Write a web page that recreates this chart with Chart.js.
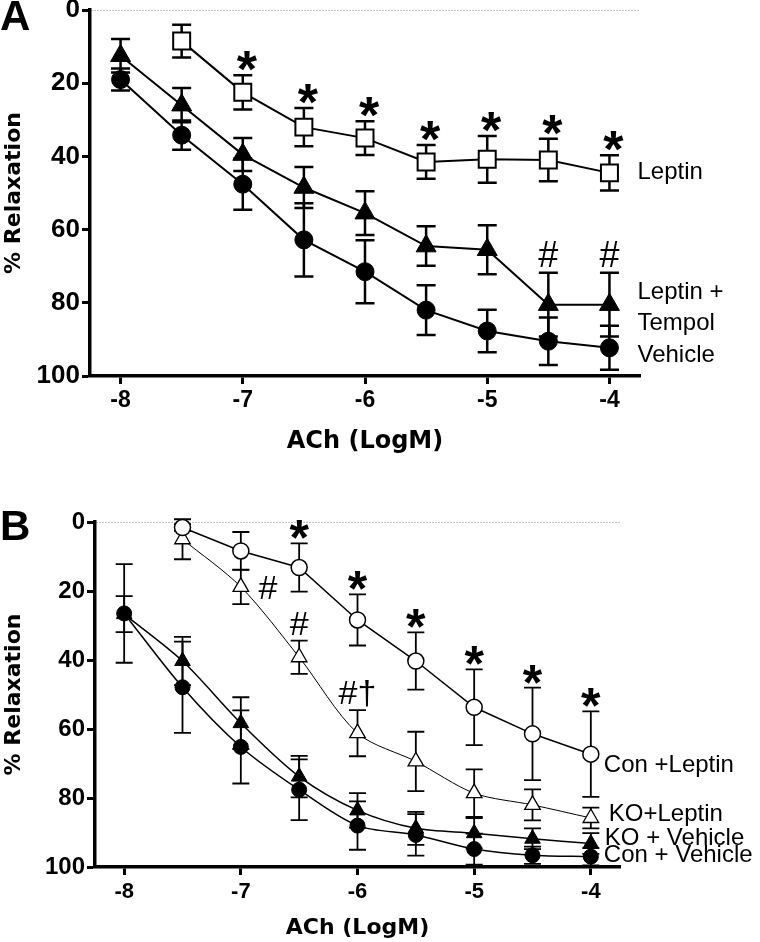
<!DOCTYPE html>
<html>
<head>
<meta charset="utf-8">
<script src="https://cdn.jsdelivr.net/npm/chart.js@4.4.0/dist/chart.umd.min.js"></script>
<style>
  html, body { margin: 0; padding: 0; background: #fff; }
  body { width: 760px; height: 942px; position: relative; overflow: hidden; }
  .panel { position: absolute; left: 0; }
  #panelA { top: -8px; }
  #panelB { top: 470px; }
</style>
</head>
<body>
<div class="panel" id="panelA"><canvas id="chartA" width="760" height="468"></canvas></div>
<div class="panel" id="panelB"><canvas id="chartB" width="760" height="472"></canvas></div>
<script>
// ---- shared axis values ----
const logConc = [-8, -7.5, -7, -6.5, -6, -5.5, -5, -4.5, -4];
const xTicks = [-8, -7, -6, -5, -4];
const yTicks = [0, 20, 40, 60, 80, 100];

// ---- panel A: % relaxation (mean, SEM) ----
const leptinMean  = [null, 8.5, 22.5, 32, 35, 41.5, 40.8, 41, 44.5];
const leptinSem   = [null, 4.5, 4.7, 5.2, 4.6, 4.6, 6.4, 5.8, 4.8];
const tempolMean  = [12.5, 26, 39.5, 48.5, 55.5, 64.5, 65.5, 80.5, 80.5];
const tempolSem   = [4.6, 4.7, 4.5, 5.6, 6, 5.4, 6.7, 8.7, 8.7];
const vehicleMean = [19, 34.2, 47.6, 62.8, 71.5, 82, 87.7, 90.5, 92.3];
const vehicleSem  = [3, 4, 7, 10, 8.6, 6.8, 5.8, 6.5, 6];

// ---- panel B ----
const conLeptinMean  = [null, 1.6, 8.4, 13.2, 28.4, 40.3, 53.7, 61.4, 67.3];
const conLeptinSem   = [null, 1, 5.5, 7, 7.4, 8.3, 11, 13.4, 12.4];
const koLeptinMean   = [null, 5, 18.8, 39.2, 61.2, 69.4, 78.6, 82, 85.8];
const koLeptinSem    = [null, 5.8, 5, 4.8, 6.7, 8.6, 6.9, 4.5, 3];
const koVehicleMean  = [26.7, 40.3, 58.3, 73.8, 83.6, 88.8, 90.2, 91.8, 93.2];
const koVehicleSem   = [5.2, 7, 7.5, 6, 5, 4.8, 4.4, 3, 3];
const conVehicleMean = [26.5, 47.9, 65.2, 77.6, 88, 90.7, 94.8, 96.6, 97];
const conVehicleSem  = [14.3, 13.2, 10.6, 8.8, 7, 6, 4.5, 2.5, 2.5];

// significance marks (placed on the log concentration)
const starsA = [-7, -6.5, -6, -5.5, -5, -4.5, -4];
const hashA  = [-4.5, -4];
const starsB = [-6.5, -6, -5.5, -5, -4.5, -4];
const hashB  = [[-7, '#'], [-6.5, '#'], [-6, '#\u2020']];

const ARIAL = '"Liberation Sans", Arial, sans-serif';
const DEJAVU = '"DejaVu Sans", sans-serif';

function points(mean, sem) {
    return logConc
        .map((x, i) => mean[i] == null ? null : { x: x, y: mean[i], err: sem[i] })
        .filter(p => p !== null);
}

// error bars under the markers
const errorBars = {
    id: 'errorBars',
    beforeDatasetsDraw(chart, args, opts) {
        const { ctx, scales: { x, y } } = chart;
        ctx.save();
        ctx.strokeStyle = '#000';
        ctx.lineWidth = opts.width;
        for (const ds of chart.data.datasets) {
            for (const p of ds.data) {
                const px = x.getPixelForValue(p.x);
                const top = y.getPixelForValue(p.y - p.err);
                const bot = y.getPixelForValue(p.y + p.err);
                ctx.beginPath();
                ctx.moveTo(px, top); ctx.lineTo(px, bot);
                ctx.moveTo(px - opts.cap, top); ctx.lineTo(px + opts.cap, top);
                ctx.moveTo(px - opts.cap, bot); ctx.lineTo(px + opts.cap, bot);
                ctx.stroke();
            }
        }
        ctx.restore();
    }
};

// stars, hashes, series names and panel letter
const notes = {
    id: 'notes',
    afterDatasetsDraw(chart, args, opts) {
        const { ctx, scales: { x, y } } = chart;
        const errTop = (dsIndex, at) => {
            const p = chart.data.datasets[dsIndex].data.find(d => d.x === at);
            return { px: x.getPixelForValue(at), top: y.getPixelForValue(p.y - p.err), py: y.getPixelForValue(p.y) };
        };
        ctx.save();
        ctx.fillStyle = '#000';
        ctx.textAlign = 'center';
        ctx.textBaseline = 'alphabetic';

        ctx.font = 'bold ' + opts.starSize + 'px ' + ARIAL;
        for (const at of opts.stars) {
            const e = errTop(opts.starSet, at);
            ctx.fillText('*', e.px + opts.starDx, e.top + opts.starDy);
        }

        ctx.font = opts.hashSize + 'px ' + ARIAL;
        for (const h of opts.hashes) {
            const e = errTop(opts.hashSet, h.at);
            if (h.side === 'right') {
                ctx.fillText(h.text, e.px + 27, e.py + 12);
            } else {
                ctx.fillText(h.text, e.px, e.top - 6);
            }
        }

        ctx.textAlign = 'left';
        ctx.textBaseline = 'middle';
        ctx.font = opts.labelSize + 'px ' + ARIAL;
        const lastX = x.getPixelForValue(logConc[logConc.length - 1]);
        for (const lab of opts.labels) {
            const ds = chart.data.datasets[lab.set];
            const last = ds.data[ds.data.length - 1];
            const cy = y.getPixelForValue(last.y) + lab.dy;
            const n = lab.text.length;
            lab.text.forEach((t, i) => {
                ctx.fillText(t, lastX + lab.dx, cy + (i - (n - 1) / 2) * opts.lineGap);
            });
        }

        ctx.textBaseline = 'alphabetic';
        ctx.font = 'bold 42px ' + ARIAL;
        ctx.fillText(opts.letter, 0, opts.letterY);
        ctx.restore();
    }
};

function makeChart(id, cfg) {
    const el = document.getElementById(id);
    return new Chart(el.getContext('2d'), {
        type: 'line',
        data: { datasets: cfg.datasets },
        options: {
            responsive: false,
            animation: false,
            layout: { padding: { top: cfg.top, right: cfg.right, bottom: 0, left: 0 } },
            plugins: {
                legend: { display: false },
                tooltip: { enabled: false },
                errorBars: cfg.errorBars,
                notes: cfg.notes
            },
            scales: {
                x: {
                    type: 'linear',
                    min: -8.25, max: -3.75,
                    afterBuildTicks: s => { s.ticks = xTicks.map(v => ({ value: v })); },
                    afterFit: s => { s.height = cfg.xHeight; },
                    grid: { drawOnChartArea: false, tickLength: 8, tickWidth: 3, tickColor: '#000' },
                    border: { color: '#000', width: 3.5 },
                    ticks: { color: '#000', padding: cfg.xTickPad, font: { family: ARIAL, weight: 'bold', size: cfg.xTickSize } },
                    title: {
                        display: true, text: 'ACh (LogM)', color: '#000',
                        font: { family: DEJAVU, weight: 'bold', size: cfg.xTitleSize },
                        padding: { top: 0, bottom: cfg.xTitlePad }
                    }
                },
                y: {
                    type: 'linear',
                    reverse: true,
                    min: 0, max: 100,
                    afterBuildTicks: s => { s.ticks = yTicks.map(v => ({ value: v })); },
                    afterFit: s => { s.width = cfg.yWidth; },
                    grid: {
                        color: c => c.tick && c.tick.value === 0 ? '#8a8a8a' : 'rgba(0,0,0,0)',
                        lineWidth: 1,
                        tickLength: 8, tickWidth: 3, tickColor: '#000',
                        tickBorderDash: []
                    },
                    border: { color: '#000', width: 3.5, dash: [1, 2] },
                    ticks: { color: '#000', padding: 2, font: { family: ARIAL, weight: 'bold', size: cfg.yTickSize } },
                    title: {
                        display: true, text: '% Relaxation', color: '#000',
                        font: { family: DEJAVU, weight: 'bold', size: 22 },
                        padding: { top: 1, bottom: 0 }
                    }
                }
            }
        },
        plugins: [errorBars, notes]
    });
}

function series(mean, sem, style) {
    return Object.assign({
        data: points(mean, sem),
        borderColor: '#000',
        pointBorderColor: '#000',
        clip: false,
        tension: 0
    }, style);
}

makeChart('chartA', {
    top: 18, right: 120, xHeight: 84, yWidth: 90,
    xTickSize: 23, xTickPad: 3, yTickSize: 26, xTitleSize: 24, xTitlePad: 4,
    datasets: [
        series(leptinMean, leptinSem, { borderWidth: 2, pointStyle: 'rect', pointRadius: 12, pointBackgroundColor: '#fff', pointBorderWidth: 2 }),
        series(tempolMean, tempolSem, { borderWidth: 2, pointStyle: 'triangle', pointRadius: 11.5, pointBackgroundColor: '#000', pointBorderWidth: 1 }),
        series(vehicleMean, vehicleSem, { borderWidth: 2, pointStyle: 'circle', pointRadius: 9, pointBackgroundColor: '#000', pointBorderWidth: 1 })
    ],
    errorBars: { width: 2.5, cap: 9.5 },
    notes: {
        stars: starsA, starSet: 0, starSize: 52, starDx: 4, starDy: 12,
        hashes: hashA.map(at => ({ at: at, text: '#' })), hashSet: 1, hashSize: 36,
        labels: [
            { set: 0, text: ['Leptin'], dx: 28, dy: 0 },
            { set: 1, text: ['Leptin +', 'Tempol'], dx: 28, dy: 3 },
            { set: 2, text: ['Vehicle'], dx: 28, dy: 8 }
        ],
        labelSize: 24, lineGap: 31,
        letter: 'A', letterY: 38
    }
});

makeChart('chartB', {
    top: 52, right: 140, xHeight: 75, yWidth: 95,
    xTickSize: 22, xTickPad: 4, yTickSize: 24, xTitleSize: 22, xTitlePad: 1,
    datasets: [
        series(conLeptinMean, conLeptinSem, { borderWidth: 1.5, pointStyle: 'circle', pointRadius: 8, pointBackgroundColor: '#fff', pointBorderWidth: 1.5 }),
        series(koLeptinMean, koLeptinSem, { borderWidth: 1, tension: 0.3, pointStyle: 'triangle', pointRadius: 9, pointBackgroundColor: '#fff', pointBorderWidth: 1.3 }),
        series(koVehicleMean, koVehicleSem, { borderWidth: 1.5, tension: 0.3, pointStyle: 'triangle', pointRadius: 9, pointBackgroundColor: '#000', pointBorderWidth: 1 }),
        series(conVehicleMean, conVehicleSem, { borderWidth: 1.5, tension: 0.3, pointStyle: 'circle', pointRadius: 7.5, pointBackgroundColor: '#000', pointBorderWidth: 1 })
    ],
    errorBars: { width: 1.8, cap: 8.5 },
    notes: {
        stars: starsB, starSet: 0, starSize: 50, starDx: 0, starDy: 12,
        hashes: hashB.map(h => ({ at: h[0], text: h[1], side: h[0] === -7 ? 'right' : 'above' })), hashSet: 1, hashSize: 34,
        labels: [
            { set: 0, text: ['Con +Leptin'], dx: 13, dy: 11 },
            { set: 1, text: ['KO+Leptin'], dx: 18, dy: -4 },
            { set: 2, text: ['KO + Vehicle'], dx: 14, dy: -5 },
            { set: 3, text: ['Con + Vehicle'], dx: 13, dy: -1 }
        ],
        labelSize: 24, lineGap: 31,
        letter: 'B', letterY: 70
    }
});
</script>
</body>
</html>
